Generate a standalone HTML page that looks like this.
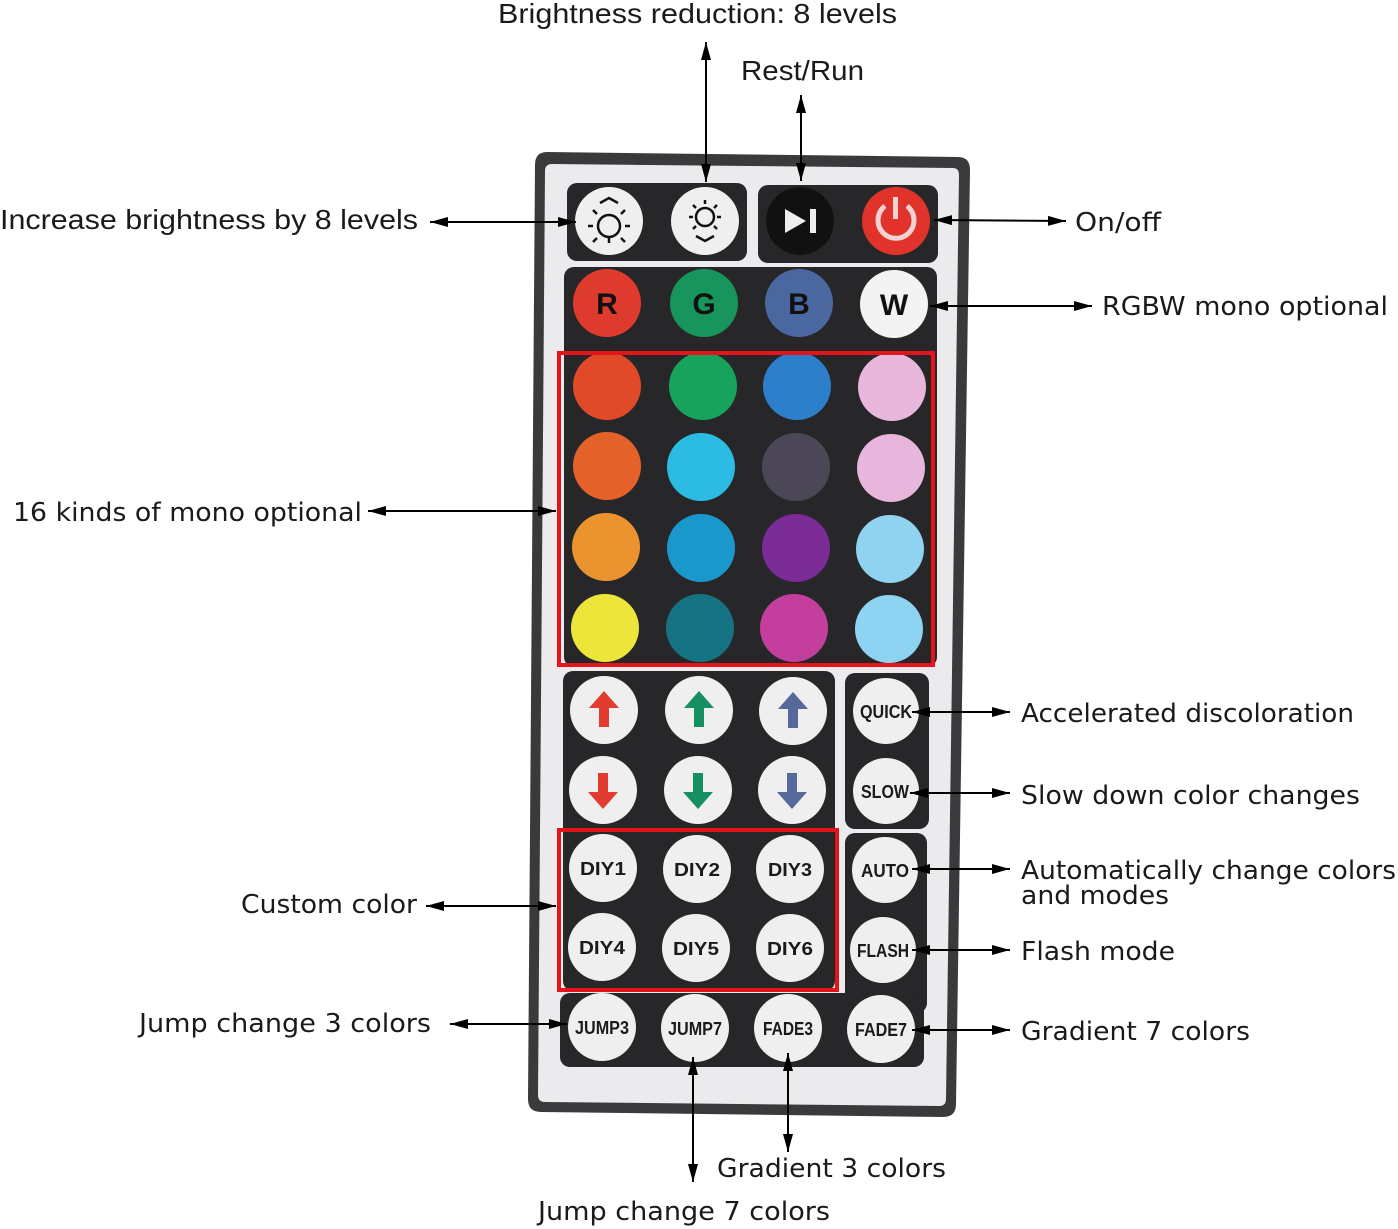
<!DOCTYPE html>
<html><head><meta charset="utf-8"><style>
html,body{margin:0;padding:0;background:#fff;}
svg{display:block}
.l{font-family:"DejaVu Sans","Liberation Sans",sans-serif;font-size:26px;fill:#1a1a1a}
.n{font-family:"Liberation Sans",sans-serif;font-size:28px;fill:#1a1a1a}
.b{font-family:"Liberation Sans",sans-serif;font-weight:bold;font-size:18px;fill:#1a1a1a;text-anchor:middle}
.ln{stroke:#000;stroke-width:2;fill:none;marker-start:url(#ah);marker-end:url(#ah)}
</style></head><body>
<svg width="1398" height="1229" viewBox="0 0 1398 1229" xmlns="http://www.w3.org/2000/svg">
<defs>
<marker id="ah" viewBox="0 0 10 10" refX="10" refY="5" markerWidth="9" markerHeight="9" markerUnits="userSpaceOnUse" orient="auto-start-reverse"><path d="M0,1.5 L10,5 L0,8.5 Z" fill="#000"/></marker>
<marker id="ah2" viewBox="0 0 10 10" refX="10" refY="5" markerWidth="18" markerHeight="10" markerUnits="userSpaceOnUse" orient="auto-start-reverse" preserveAspectRatio="none"><path d="M0,0 L10,5 L0,10 Z" fill="#000"/></marker>
</defs>
<style>.ln{marker-start:url(#ah2);marker-end:url(#ah2)}</style>

<!-- remote body -->
<path d="M547,152 L958,157 Q970,157 970,170 L956,1104 Q956,1117 943,1117 L541,1112 Q528,1112 528,1099 L535,165 Q535,152 547,152 Z" fill="#3a3a3c"/>
<path d="M552,164 L953,168 Q959,168 959,175 L946,1099 Q946,1106 939,1106 L545,1102 Q538,1102 538,1095 L545,171 Q545,164 552,164 Z" fill="#ebebed"/>

<!-- dark panels -->
<rect x="567" y="183" width="180" height="78" rx="10" fill="#27272a"/>
<rect x="758" y="185" width="180" height="78" rx="10" fill="#27272a"/>
<rect x="564" y="267" width="373" height="400" rx="10" fill="#27272a"/>
<rect x="563" y="671" width="272" height="320" rx="10" fill="#27272a"/>
<rect x="845" y="673" width="84" height="156" rx="10" fill="#27272a"/>
<rect x="845" y="833" width="82" height="180" rx="10" fill="#27272a"/>
<rect x="560" y="993" width="364" height="74" rx="10" fill="#27272a"/>

<!-- row 1 -->
<circle cx="609" cy="221" r="34" fill="#efefef"/>
<circle cx="705" cy="221" r="34" fill="#efefef"/>
<circle cx="800" cy="221" r="34" fill="#111"/>
<circle cx="896" cy="221" r="34" fill="#e1332b"/>
<g stroke="#111" stroke-width="2.5" fill="none">
<circle cx="609" cy="226" r="11"/>
<path d="M600,203 L609,198 L618,203 M597,238 l-4,4 M621,238 l4,4 M597,214 l-4,-4 M621,214 l4,-4 M593,226 h-5 M625,226 h5 M609,238 v5"/>
<circle cx="705" cy="217" r="9"/>
<path d="M705,204 v-4 M705,230 v0 M693,217 h-4 M717,217 h4 M696,208 l-3,-3 M714,208 l3,-3 M696,226 l-3,3 M714,226 l3,3 M696,236 L705,241 L714,236"/>
</g>
<path d="M785,209 L806,221 L785,233 Z" fill="#eee"/><rect x="810" y="209" width="6" height="24" fill="#eee"/>
<path d="M885,206 A18,18 0 1 0 907,206" stroke="#f3d3d0" stroke-width="5" fill="none"/><rect x="893" y="197" width="5" height="22" fill="#f3d3d0"/>

<!-- RGBW -->
<circle cx="607" cy="303" r="34" fill="#df3a2e"/>
<circle cx="704" cy="303" r="34" fill="#17955c"/>
<circle cx="799" cy="303" r="34" fill="#4a689f"/>
<circle cx="894" cy="304" r="34" fill="#f3f3f3"/>
<g font-family="Liberation Sans,sans-serif" font-weight="bold" font-size="30" text-anchor="middle" fill="#111">
<text x="607" y="314">R</text><text x="704" y="314">G</text><text x="799" y="314">B</text><text x="894" y="315">W</text></g>

<!-- color grid -->
<g>
<circle cx="607" cy="386" r="34" fill="#e14a28"/><circle cx="703" cy="386" r="34" fill="#17a35c"/><circle cx="797" cy="386" r="34" fill="#2e7fcb"/><circle cx="892" cy="387" r="34" fill="#e9b6dc"/>
<circle cx="607" cy="466" r="34" fill="#e4622a"/><circle cx="701" cy="467" r="34" fill="#2cbce3"/><circle cx="796" cy="467" r="34" fill="#4b4756"/><circle cx="891" cy="468" r="34" fill="#e8b5dc"/>
<circle cx="606" cy="547" r="34" fill="#eb932f"/><circle cx="701" cy="548" r="34" fill="#1a98cc"/><circle cx="796" cy="548" r="34" fill="#7b2b96"/><circle cx="890" cy="549" r="34" fill="#90d3f1"/>
<circle cx="605" cy="628" r="34" fill="#eee53a"/><circle cx="700" cy="628" r="34" fill="#157384"/><circle cx="794" cy="628" r="34" fill="#c43e9e"/><circle cx="889" cy="629" r="34" fill="#8fd3f2"/>
</g>
<rect x="559" y="353" width="374" height="312" fill="none" stroke="#e5131b" stroke-width="4"/>

<!-- arrows -->
<g fill="#efefef">
<circle cx="604" cy="710" r="34"/><circle cx="699" cy="710" r="34"/><circle cx="793" cy="711" r="34"/>
<circle cx="603" cy="790" r="34"/><circle cx="698" cy="790" r="34"/><circle cx="792" cy="790" r="34"/>
<circle cx="886" cy="711" r="33"/><circle cx="886" cy="791" r="33"/>
<circle cx="603" cy="868" r="34"/><circle cx="697" cy="869" r="34"/><circle cx="790" cy="869" r="34"/>
<circle cx="602" cy="947" r="34"/><circle cx="696" cy="948" r="34"/><circle cx="790" cy="948" r="34"/>
<circle cx="885" cy="870" r="33"/><circle cx="883" cy="950" r="33"/>
<circle cx="602" cy="1027" r="34"/><circle cx="695" cy="1028" r="34"/><circle cx="788" cy="1028" r="34"/><circle cx="881" cy="1029" r="34"/>
</g>
<path d="M604,691 l15,17 h-10 v19 h-10 v-19 h-10 Z" fill="#e23b30"/>
<path d="M699,691 l15,17 h-10 v19 h-10 v-19 h-10 Z" fill="#168f63"/>
<path d="M793,692 l15,17 h-10 v19 h-10 v-19 h-10 Z" fill="#56699a"/>
<path d="M603,809 l15,-17 h-10 v-19 h-10 v19 h-10 Z" fill="#e23b30"/>
<path d="M698,809 l15,-17 h-10 v-19 h-10 v19 h-10 Z" fill="#168f63"/>
<path d="M792,809 l15,-17 h-10 v-19 h-10 v19 h-10 Z" fill="#56699a"/>
<rect x="559" y="830" width="278" height="160" fill="none" stroke="#e5131b" stroke-width="4"/>

<text class="b" x="886" y="718" textLength="52" lengthAdjust="spacingAndGlyphs">QUICK</text>
<text class="b" x="885" y="798" textLength="48" lengthAdjust="spacingAndGlyphs">SLOW</text>
<text class="b" x="603" y="875" textLength="46" lengthAdjust="spacingAndGlyphs">DIY1</text>
<text class="b" x="697" y="876" textLength="46" lengthAdjust="spacingAndGlyphs">DIY2</text>
<text class="b" x="790" y="876" textLength="44" lengthAdjust="spacingAndGlyphs">DIY3</text>
<text class="b" x="602" y="954" textLength="46" lengthAdjust="spacingAndGlyphs">DIY4</text>
<text class="b" x="696" y="955" textLength="46" lengthAdjust="spacingAndGlyphs">DIY5</text>
<text class="b" x="790" y="955" textLength="46" lengthAdjust="spacingAndGlyphs">DIY6</text>
<text class="b" x="885" y="877" textLength="48" lengthAdjust="spacingAndGlyphs">AUTO</text>
<text class="b" x="883" y="957" textLength="52" lengthAdjust="spacingAndGlyphs">FLASH</text>
<text class="b" x="602" y="1034" textLength="54" lengthAdjust="spacingAndGlyphs">JUMP3</text>
<text class="b" x="695" y="1035" textLength="54" lengthAdjust="spacingAndGlyphs">JUMP7</text>
<text class="b" x="788" y="1035" textLength="50" lengthAdjust="spacingAndGlyphs">FADE3</text>
<text class="b" x="881" y="1036" textLength="52" lengthAdjust="spacingAndGlyphs">FADE7</text>

<!-- connectors -->
<line class="ln" x1="706" y1="42" x2="706" y2="182"/>
<line class="ln" x1="801" y1="95" x2="801" y2="181"/>
<line class="ln" x1="430" y1="222" x2="576" y2="222"/>
<line class="ln" x1="934" y1="220" x2="1066" y2="221"/>
<line class="ln" x1="930" y1="306" x2="1092" y2="306"/>
<line class="ln" x1="368" y1="511" x2="556" y2="511"/>
<line class="ln" x1="912" y1="712" x2="1010" y2="712"/>
<line class="ln" x1="910" y1="793" x2="1010" y2="793"/>
<line class="ln" x1="912" y1="869" x2="1010" y2="869"/>
<line class="ln" x1="912" y1="950" x2="1010" y2="950"/>
<line class="ln" x1="912" y1="1030" x2="1010" y2="1030"/>
<line class="ln" x1="426" y1="906" x2="556" y2="906"/>
<line class="ln" x1="450" y1="1024" x2="567" y2="1024"/>
<line class="ln" x1="693" y1="1057" x2="693" y2="1182"/>
<line class="ln" x1="788" y1="1053" x2="788" y2="1152"/>

<!-- labels -->
<text class="n" x="498" y="23" textLength="399" lengthAdjust="spacingAndGlyphs">Brightness reduction: 8 levels</text>
<text class="n" x="741" y="80" textLength="123" lengthAdjust="spacingAndGlyphs">Rest/Run</text>
<text class="n" x="0" y="229" textLength="418" lengthAdjust="spacingAndGlyphs">Increase brightness by 8 levels</text>
<text class="l" x="1075" y="231" textLength="86" lengthAdjust="spacingAndGlyphs">On/off</text>
<text class="l" x="1102" y="315" textLength="286" lengthAdjust="spacingAndGlyphs">RGBW mono optional</text>
<text class="l" x="13" y="521" textLength="349" lengthAdjust="spacingAndGlyphs">16 kinds of mono optional</text>
<text class="l" x="1021" y="722" textLength="333" lengthAdjust="spacingAndGlyphs">Accelerated discoloration</text>
<text class="l" x="1021" y="804" textLength="339" lengthAdjust="spacingAndGlyphs">Slow down color changes</text>
<text class="l" x="1021" y="879" textLength="375" lengthAdjust="spacingAndGlyphs">Automatically change colors</text>
<text class="l" x="1021" y="904" textLength="148" lengthAdjust="spacingAndGlyphs">and modes</text>
<text class="l" x="1021" y="960" textLength="154" lengthAdjust="spacingAndGlyphs">Flash mode</text>
<text class="l" x="1021" y="1040" textLength="229" lengthAdjust="spacingAndGlyphs">Gradient 7 colors</text>
<text class="l" x="241" y="913" textLength="176" lengthAdjust="spacingAndGlyphs">Custom color</text>
<text class="l" x="139" y="1032" textLength="292" lengthAdjust="spacingAndGlyphs">Jump change 3 colors</text>
<text class="l" x="717" y="1177" textLength="229" lengthAdjust="spacingAndGlyphs">Gradient 3 colors</text>
<text class="l" x="538" y="1220" textLength="292" lengthAdjust="spacingAndGlyphs">Jump change 7 colors</text>
</svg>
</body></html>
